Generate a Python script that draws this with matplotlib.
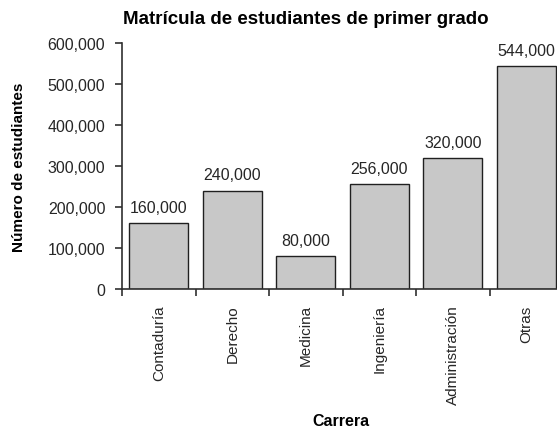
import matplotlib
matplotlib.use("Agg")
import matplotlib.pyplot as plt
from matplotlib.ticker import FuncFormatter, FixedLocator

carreras = ["Contaduría", "Derecho", "Medicina", "Ingeniería", "Administración", "Otras"]
estudiantes = [160000, 240000, 80000, 256000, 320000, 544000]

plt.rcParams["font.family"] = ["Liberation Sans", "DejaVu Sans"]

fig = plt.figure(figsize=(5.57, 4.31), dpi=100)
ax = fig.add_axes([122 / 557, 141 / 431, 441 / 557, 246 / 431])

x = range(len(carreras))
ax.bar(x, estudiantes, width=0.8, color="#c8c8c8", edgecolor="#202020", linewidth=1.0)

for xi, v in zip(x, estudiantes):
    ax.text(xi, v + 20000, f"{v:,}", ha="center", va="bottom", fontsize=11.5, color="#262626")

ax.set_xlim(-0.5, len(carreras) - 0.5)
ax.set_ylim(0, 600000)
ax.set_yticks(range(0, 600001, 100000))
ax.yaxis.set_major_formatter(FuncFormatter(lambda v, p: f"{int(v):,}"))

ax.set_xticks(list(x))
ax.set_xticklabels(carreras, rotation=90, fontsize=11, color="#262626")
ax.xaxis.set_minor_locator(FixedLocator([i - 0.5 for i in range(len(carreras) + 1)]))
ax.tick_params(axis="x", which="major", length=0, pad=11)
ax.tick_params(axis="x", which="minor", length=5, width=1.2, color="#303030")
ax.tick_params(axis="y", length=5, width=1.2, color="#303030", labelsize=11.5, labelcolor="#262626", pad=7)

for s in ["top", "right"]:
    ax.spines[s].set_visible(False)
for s in ["left", "bottom"]:
    ax.spines[s].set_linewidth(1.2)
    ax.spines[s].set_color("#303030")

ax.set_ylabel("Número de estudiantes", fontsize=11, fontweight="bold")
ax.yaxis.set_label_coords(-103 / 441, 0.5)
ax.set_xlabel("Carrera", fontsize=11.5, fontweight="bold")
ax.xaxis.set_label_coords(219 / 441, -(422 - 290) / 246)
ax.xaxis.label.set_va("center")
ax.yaxis.label.set_va("center")
fig.text(306 / 557, 1 - 19.5 / 431, "Matrícula de estudiantes de primer grado", ha="center", va="center",
         fontsize=13.5, fontweight="bold")

fig.savefig("out.png", dpi=100)
